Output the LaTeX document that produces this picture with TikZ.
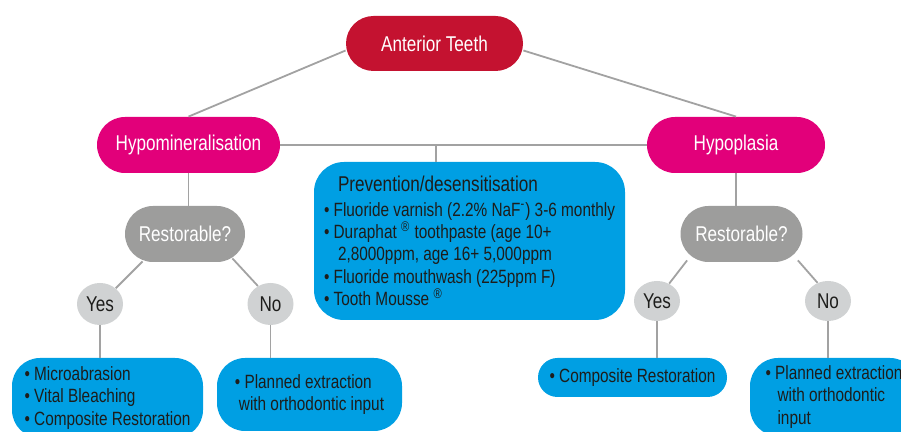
\documentclass[tikz,border=0pt]{standalone}
\usepackage{fontspec}
\setmainfont[FakeStretch=0.8]{Liberation Sans}
\usetikzlibrary{positioning,
	calc,
	shapes,
	shapes.geometric}

\definecolor{teethred}{HTML}{C41230}
\definecolor{hypomagenta}{HTML}{E2007A}
\definecolor{restgrey}{HTML}{9D9D9C}
\definecolor{answergrey}{HTML}{D0D2D3}
\definecolor{adviceblue}{HTML}{009FE3}
\definecolor{linkgrey}{HTML}{A2A2A2}
\definecolor{inktext}{HTML}{1D1D1B}

\tikzset{
	pill/.style={rectangle, inner sep=0pt, text=white, font=\fontsize{10.7}{13}\selectfont},
	answer/.style={ellipse, fill=answergrey, inner sep=0pt, minimum width=23pt, text=inktext, font=\fontsize{10.7}{13}\selectfont},
	advice/.style={rectangle, fill=adviceblue, inner sep=0pt, align=left, text=inktext, font=\fontsize{9.6}{11.2}\selectfont},
	link/.style={draw=linkgrey, line width=0.9pt}
}

\begin{document}
\begin{tikzpicture}[x=0.5pt,y=-0.5pt]
\useasboundingbox (0,0) rectangle (901,432);

% top of the tree
\node[pill, fill=teethred, minimum width=88.5pt, minimum height=27.5pt, rounded corners=13.75pt] (anterior) at (434.5,43.5) {Anterior Teeth};
\node[pill, fill=hypomagenta, minimum width=91.5pt, minimum height=28pt, rounded corners=14pt] (hypomin) at (188.5,145) {Hypomineralisation};
\node[pill, fill=hypomagenta, minimum width=89pt, minimum height=28pt, rounded corners=14pt] (hypopl) at (736,145) {Hypoplasia};

\node[pill, fill=restgrey, minimum width=60pt, minimum height=28pt, rounded corners=14pt] (restL) at (185,234) {Restorable?};
\node[pill, fill=restgrey, minimum width=61pt, minimum height=28pt, rounded corners=14pt] (restR) at (741.5,234) {Restorable?};

\node[answer, minimum height=21pt] (yesL) at (100,304) {Yes};
\node[answer, minimum height=21pt] (noL) at (270.5,304) {No};
\node[answer, minimum height=20pt] (yesR) at (657,301) {Yes};
\node[answer, minimum height=20pt] (noR) at (828,301) {No};

% advice boxes
\node[advice, minimum width=155.5pt, minimum height=79pt, rounded corners=15pt] (prev) at (469.5,241)
	{\hspace*{7pt}{\fontsize{10.7}{13}\selectfont Prevention/desensitisation}\\[1pt]
	\textbullet\ Fluoride varnish (2.2\% NaF\textsuperscript{\scriptsize -}) 3-6 monthly\\
	\textbullet\ Duraphat \textsuperscript{\scriptsize ®} toothpaste (age 10+\\
	\hspace*{7pt}2,8000ppm, age 16+ 5,000ppm\\
	\textbullet\ Fluoride mouthwash (225ppm F)\\
	\textbullet\ Tooth Mousse \textsuperscript{\scriptsize ®}};

\node[advice, minimum width=95.5pt, minimum height=40pt, rounded corners=14pt] (boxA) at (107.5,398)
	{\textbullet\ Microabrasion\\ \textbullet\ Vital Bleaching\\ \textbullet\ Composite Restoration};
\node[advice, minimum width=92.5pt, minimum height=36.5pt, rounded corners=14pt] (boxB) at (309.5,394.5)
	{\textbullet\ Planned extraction\\ \hspace*{2pt}with orthodontic input};
\node[advice, minimum width=94.5pt, minimum height=19.5pt, rounded corners=9.75pt] (boxC) at (632.5,377.5)
	{\textbullet\ Composite Restoration};
\node[advice, minimum width=84pt, minimum height=39pt, rounded corners=14pt] (boxD) at (834,397)
	{\textbullet\ Planned extraction\\ \hspace*{6pt}with orthodontic\\ \hspace*{6pt}input};

% connectors
\coordinate (split) at (436,145);
\draw[link] ([yshift=-3.5pt]anterior.west) -- (hypomin.north);
\draw[link] ([yshift=-3.5pt]anterior.east) -- (hypopl.north);
\draw[link] (hypomin.east) -- (hypopl.west);
\draw[link] (split) -- (split |- prev.north);
\draw[link] (hypomin.south) -- (hypomin.south |- restL.north);
\draw[link] (hypopl.south) -- (hypopl.south |- restR.north);

\draw[link] ([xshift=9pt,yshift=0.5pt]restL.south west) -- (yesL.45);
\draw[link] ([xshift=-6.5pt,yshift=2pt]restL.south east) -- (noL.125);
\draw[link] ([xshift=3.5pt,yshift=1pt]restR.south west) -- (yesR.55);
\draw[link] ([xshift=-2.5pt,yshift=1pt]restR.south east) -- (noR.120);

\foreach \a/\b in {yesL/boxA, noL/boxB, yesR/boxC, noR/boxD}
	\draw[link] (\a.south) -- (\a.south |- \b.north);
\end{tikzpicture}
\end{document}
